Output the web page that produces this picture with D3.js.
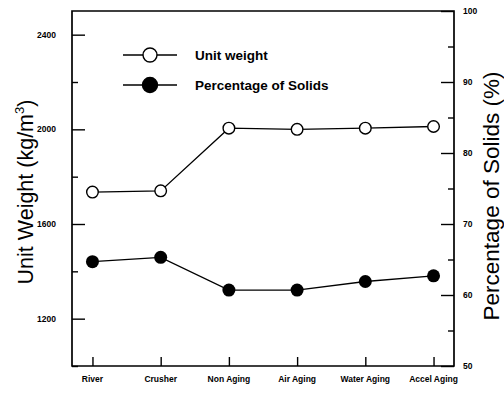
<!DOCTYPE html>
<html>
<head>
<meta charset="utf-8">
<script src="https://cdn.jsdelivr.net/npm/d3@7"></script>
<style>
  html, body { margin: 0; padding: 0; background: #fff; }
  svg { display: block; font-family: "Liberation Sans", Arial, sans-serif; }
</style>
</head>
<body>
<svg id="chart" width="504" height="396"></svg>
<script>
// Aggregate source / curing condition
const categories = ["River", "Crusher", "Non Aging", "Air Aging", "Water Aging", "Accel Aging"];
// Unit weight, kg/m3 (left axis)
const unitWeight = [1735, 1740, 2005, 2000, 2005, 2012];
// Percentage of solids, % (right axis)
const percentSolids = [64.7, 65.3, 60.7, 60.7, 61.9, 62.7];

const leftMajorTicks = [1200, 1600, 2000, 2400];
const leftMinorTicks = [1000, 1400, 1800, 2200];
const rightMajorTicks = [50, 60, 70, 80, 90, 100];
const rightMinorTicks = [55, 65, 75, 85, 95];

const svg = d3.select("#chart");
const plot = { left: 72, right: 454, top: 11, bottom: 366 };

const x = d3.scalePoint().domain(categories).range([plot.left, plot.right]).padding(0.3);
const yL = d3.scaleLinear().domain([1000, 2500]).range([plot.bottom, plot.top]);
const yR = d3.scaleLinear().domain([50, 100]).range([plot.bottom, plot.top]);

// frame
svg.append("path")
  .attr("d", `M${plot.left},${plot.bottom}V${plot.top}H${plot.right}V${plot.bottom}Z`)
  .attr("fill", "none").attr("stroke", "#000").attr("stroke-width", 1.7);

// left axis: inward ticks, labels outside
const gL = svg.append("g").attr("transform", `translate(${plot.left},0)`);
gL.call(d3.axisRight(yL).tickValues(leftMajorTicks).tickSize(13).tickFormat(""))
  .call(g => g.select(".domain").remove());
gL.append("g").call(d3.axisRight(yL).tickValues(leftMinorTicks).tickSize(6).tickFormat(""))
  .call(g => g.select(".domain").remove());
gL.selectAll("line").attr("stroke", "#000").attr("stroke-width", 1.4);
gL.selectAll(".leftlab").data(leftMajorTicks).enter().append("text")
  .attr("class", "leftlab")
  .attr("x", -16).attr("y", d => yL(d) + 3)
  .attr("fill", "#000").attr("font-family", "Liberation Sans, Arial, sans-serif")
  .attr("text-anchor", "end").attr("font-size", 8.5).attr("font-weight", "bold")
  .text(d => d);

// right axis: inward ticks, labels outside
const gR = svg.append("g").attr("transform", `translate(${plot.right},0)`);
gR.call(d3.axisLeft(yR).tickValues(rightMajorTicks).tickSize(13).tickFormat(""))
  .call(g => g.select(".domain").remove());
gR.append("g").call(d3.axisLeft(yR).tickValues(rightMinorTicks).tickSize(6).tickFormat(""))
  .call(g => g.select(".domain").remove());
gR.selectAll("line").attr("stroke", "#000").attr("stroke-width", 1.4);
gR.selectAll(".rightlab").data(rightMajorTicks).enter().append("text")
  .attr("class", "rightlab")
  .attr("x", 9).attr("y", d => yR(d) + 3)
  .attr("fill", "#000").attr("font-family", "Liberation Sans, Arial, sans-serif")
  .attr("text-anchor", "start").attr("font-size", 8.5).attr("font-weight", "bold")
  .text(d => d);

// bottom axis: upward ticks at each category
const gB = svg.append("g").attr("transform", `translate(0,${plot.bottom})`);
gB.call(d3.axisTop(x).tickSize(9).tickFormat(""))
  .call(g => g.select(".domain").remove());
gB.selectAll("line").attr("stroke", "#000").attr("stroke-width", 1.4);
gB.selectAll(".catlab").data(categories).enter().append("text")
  .attr("class", "catlab")
  .attr("x", d => x(d)).attr("y", 16)
  .attr("fill", "#000").attr("font-family", "Liberation Sans, Arial, sans-serif")
  .attr("text-anchor", "middle").attr("font-size", 8.5).attr("font-weight", "bold")
  .text(d => d);

// series
const lineL = d3.line().x((d, i) => x(categories[i])).y(d => yL(d));
const lineR = d3.line().x((d, i) => x(categories[i])).y(d => yR(d));

svg.append("path").datum(unitWeight).attr("d", lineL)
  .attr("fill", "none").attr("stroke", "#000").attr("stroke-width", 1.3);
svg.selectAll(".uw").data(unitWeight).enter().append("circle")
  .attr("class", "uw")
  .attr("cx", (d, i) => x(categories[i])).attr("cy", d => yL(d)).attr("r", 5.8)
  .attr("fill", "#fff").attr("stroke", "#000").attr("stroke-width", 1.4);

svg.append("path").datum(percentSolids).attr("d", lineR)
  .attr("fill", "none").attr("stroke", "#000").attr("stroke-width", 1.3);
svg.selectAll(".ps").data(percentSolids).enter().append("circle")
  .attr("class", "ps")
  .attr("cx", (d, i) => x(categories[i])).attr("cy", d => yR(d)).attr("r", 6.5)
  .attr("fill", "#000");

// legend
const legend = [
  { label: "Unit weight", filled: false, y: 55 },
  { label: "Percentage of Solids", filled: true, y: 85 }
];
const lg = svg.append("g");
legend.forEach(item => {
  lg.append("line").attr("x1", 123).attr("x2", 177).attr("y1", item.y).attr("y2", item.y)
    .attr("stroke", "#000").attr("stroke-width", 1.4);
  lg.append("circle").attr("cx", 150).attr("cy", item.y).attr("r", item.filled ? 7.5 : 7)
    .attr("fill", item.filled ? "#000" : "#fff").attr("stroke", "#000").attr("stroke-width", 1.4);
  lg.append("text").attr("x", 195).attr("y", item.y + 5)
    .attr("font-size", 13.5).attr("font-weight", "bold").text(item.label);
});

// axis titles
const tL = svg.append("text")
  .attr("transform", `translate(33,192) rotate(-90)`)
  .attr("text-anchor", "middle").attr("font-size", 21.5);
tL.append("tspan").text("Unit  Weight (kg/m");
tL.append("tspan").attr("font-size", 13).attr("dy", -9).text("3");
tL.append("tspan").attr("dy", 9).text(")");

svg.append("text")
  .attr("transform", `translate(499,196) rotate(-90)`)
  .attr("text-anchor", "middle").attr("font-size", 22.5)
  .text("Percentage of Solids (%)");
</script>
</body>
</html>
